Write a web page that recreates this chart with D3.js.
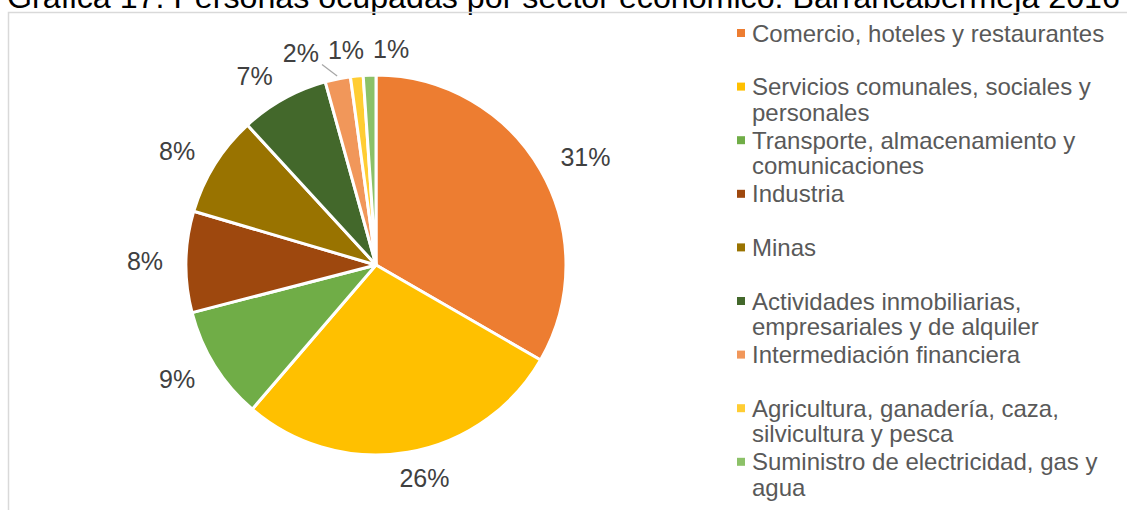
<!DOCTYPE html>
<html>
<head>
<meta charset="utf-8">
<script src="https://cdn.jsdelivr.net/npm/d3@7"></script>
<style>
  html, body { margin: 0; padding: 0; background: #fff; }
  svg { display: block; font-family: "Liberation Sans", Arial, sans-serif; }
</style>
</head>
<body>
<svg id="chart" width="1127" height="510"></svg>
<script>
// Personas ocupadas por sector económico (porcentaje)
const categories = [
  "Comercio, hoteles y restaurantes",
  "Servicios comunales, sociales y personales",
  "Transporte, almacenamiento y comunicaciones",
  "Industria",
  "Minas",
  "Actividades inmobiliarias, empresariales y de alquiler",
  "Intermediación financiera",
  "Agricultura, ganadería, caza, silvicultura y pesca",
  "Suministro de electricidad, gas y agua"
];
const values = [31, 26, 9, 8, 8, 7, 2, 1, 1];
const sliceColors = ["#ED7D31", "#FFC000", "#70AD47", "#9E480E", "#997300",
                     "#43682B", "#F1975A", "#FFCD33", "#8CC168"];
const titleText = "Gráfica 17. Personas ocupadas por sector económico. Barrancabermeja 2016";

const W = 1127, H = 510;
const svg = d3.select("#chart");

// Title (runs past the top edge of the page)
const title = svg.append("text")
  .attr("x", 7).attr("y", 8)
  .attr("fill", "#000")
  .style("font-size", "30px")
  .text(titleText);
const tw = title.node().getComputedTextLength();
title.style("font-size", (30 * 1113 / tw) + "px");

// Chart area frame
svg.append("rect")
  .attr("x", 8.5).attr("y", 12.5)
  .attr("width", W + 10).attr("height", H + 10)
  .attr("fill", "none")
  .attr("stroke", "#d9d9d9")
  .attr("stroke-width", 1.5);

// Pie
const cx = 376, cy = 265, R = 190;
const color = d3.scaleOrdinal().domain(categories).range(sliceColors);
const pie = d3.pie().sort(null).value(d => d.value);
const arcs = pie(categories.map((c, i) => ({ name: c, value: values[i] })));
const arcGen = d3.arc().innerRadius(0).outerRadius(R);

const g = svg.append("g").attr("transform", `translate(${cx},${cy})`);
g.selectAll("path.slice")
  .data(arcs)
  .join("path")
  .attr("class", "slice")
  .attr("d", arcGen)
  .attr("fill", d => color(d.data.name))
  .attr("stroke", "#fff")
  .attr("stroke-width", 3)
  .attr("stroke-linejoin", "round");

// Data labels placed outside the slices
const labelFont = 25, padX = 23, padY = 16, capH = 20, gap = 9;
const labelLayer = svg.append("g");
const labels = arcs.map(d => {
  const mid = (d.startAngle + d.endAngle) / 2;
  const ux = Math.sin(mid), uy = -Math.cos(mid);
  const t = labelLayer.append("text")
    .attr("text-anchor", "middle")
    .attr("fill", "#404040")
    .style("font-size", labelFont + "px")
    .text(d.data.value + "%");
  const w = t.node().getComputedTextLength();
  const x = cx + ux * (R + padX) + Math.max(-1, Math.min(1, ux * 3)) * w / 2;
  const y = cy + uy * (R + padY) + uy * capH / 2;
  return { d, t, w, ux, uy, x0: x, x, y };
});

// Spread out labels that collide horizontally
let groups = labels.map(l => ({ items: [l] }));
function layoutGroup(gr) {
  const total = d3.sum(gr.items, l => l.w) + gap * (gr.items.length - 1);
  const mean = d3.mean(gr.items, l => l.x0);
  let x = mean - total / 2;
  gr.items.forEach(l => { l.x = x + l.w / 2; x += l.w + gap; });
  gr.left = mean - total / 2; gr.right = mean + total / 2;
  gr.y = d3.mean(gr.items, l => l.y);
}
groups.forEach(layoutGroup);
let merged = true;
while (merged) {
  merged = false;
  groups.sort((a, b) => a.left - b.left);
  for (let i = 0; i < groups.length && !merged; i++) {
    for (let j = i + 1; j < groups.length && !merged; j++) {
      const a = groups[i], b = groups[j];
      if (Math.abs(a.y - b.y) < capH + 4 && b.left < a.right + gap && a.left < b.right + gap) {
        const gr = { items: a.items.concat(b.items).sort((p, q) => p.x0 - q.x0) };
        layoutGroup(gr);
        groups = groups.filter(x => x !== a && x !== b).concat([gr]);
        merged = true;
      }
    }
  }
}

labels.forEach(l => {
  l.t.attr("x", l.x).attr("y", l.y + capH / 2 - 1);
  // leader line when a label was pushed away from its slice
  const px = cx + l.ux * (R - 1), py = cy + l.uy * (R - 1);
  const bx0 = l.x - l.w / 2, bx1 = l.x + l.w / 2, by0 = l.y - capH / 2, by1 = l.y + capH / 2;
  const qx = Math.max(bx0, Math.min(bx1, px)), qy = Math.max(by0, Math.min(by1, py));
  if (Math.abs(l.x - l.x0) > 10 && Math.hypot(px - qx, py - qy) > 20) {
    labelLayer.append("line")
      .attr("x1", qx + 3).attr("y1", qy + 1)
      .attr("x2", cx + l.ux * (R + 3)).attr("y2", cy + l.uy * (R + 3))
      .attr("stroke", "#a6a6a6").attr("stroke-width", 1.2);
  }
});

// Legend with wrapped entries
const legX = 737, legTextX = 752, legTop = 33, slotH = 53.6, lineH = 25.5, maxW = 365;
const legend = svg.append("g").style("font-size", "24px").attr("fill", "#595959");
const measurer = legend.append("text").attr("visibility", "hidden");
function wrap(str) {
  const words = str.split(" ");
  const lines = [];
  let cur = "";
  words.forEach(wd => {
    const trial = cur ? cur + " " + wd : wd;
    measurer.text(trial);
    if (cur && measurer.node().getComputedTextLength() > maxW) {
      lines.push(cur); cur = wd;
    } else cur = trial;
  });
  lines.push(cur);
  return lines;
}
categories.forEach((c, i) => {
  const yc = legTop + i * slotH;
  legend.append("rect")
    .attr("x", legX).attr("y", yc - 4)
    .attr("width", 8).attr("height", 8)
    .attr("fill", color(c));
  const t = legend.append("text").attr("x", legTextX).attr("y", yc + 8.5);
  wrap(c).forEach((ln, k) => {
    t.append("tspan").attr("x", legTextX).attr("y", yc + 8.5 + k * lineH).text(ln);
  });
});
measurer.remove();
</script>
</body>
</html>
